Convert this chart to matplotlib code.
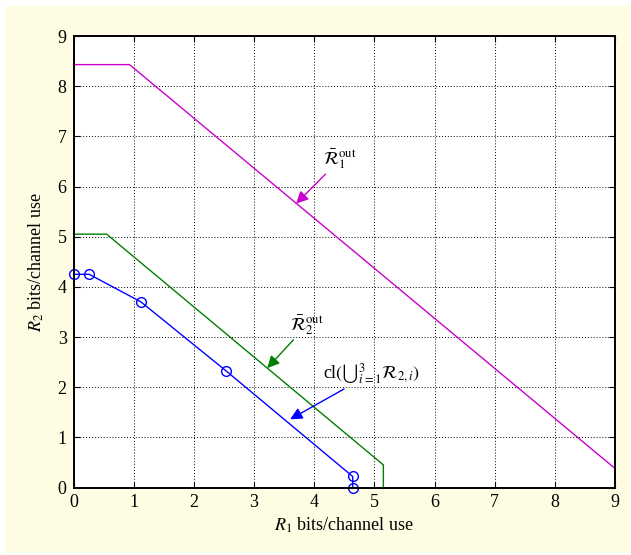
import matplotlib.pyplot as plt
from matplotlib.patches import FancyBboxPatch

plt.rcParams['font.family'] = ['Liberation Serif', 'DejaVu Serif']
plt.rcParams['mathtext.fontset'] = 'stix'

# outer bound 1 (magenta)
r1_out1 = [0, 0.93, 9.0, 9.0]
r2_out1 = [8.43, 8.43, 0.38, 0]
# outer bound 2 (green)
r1_out2 = [0, 0.55, 5.10, 5.15, 5.15]
r2_out2 = [5.05, 5.05, 0.50, 0.45, 0]
# achievable region corner points (blue)
r1_ach = [0, 0.26, 1.12, 2.54, 4.64, 4.64]
r2_ach = [4.25, 4.25, 3.70, 2.32, 0.22, 0]

fig = plt.figure(figsize=(6.31, 5.55), dpi=100)
fig.patch.set_facecolor('white')
bg = FancyBboxPatch((0.008, 0.004), 0.99, 0.985, boxstyle='square,pad=0',
                    transform=fig.transFigure, facecolor='#fefde3',
                    edgecolor='none', zorder=-10)
fig.patches.append(bg)

ax = fig.add_axes([0.1166, 0.1216, 0.858, 0.8135])
ax.set_facecolor('white')

ax.plot(r1_out1, r2_out1, color='#cc00cc', lw=1.0, clip_on=False)
ax.plot(r1_out2, r2_out2, color='#007f00', lw=1.0, clip_on=False)
ax.plot(r1_ach, r2_ach, color='#0000ff', lw=1.0, marker='o', markersize=7,
        markerfacecolor='none', markeredgewidth=1.0, clip_on=False)

ax.set_xlim(0, 9)
ax.set_ylim(0, 9)
ax.set_xticks(range(10))
ax.set_yticks(range(10))
ax.grid(True, color='black', linestyle=(0, (1, 2)), lw=0.7)
ax.tick_params(direction='in', top=True, right=True, labelsize=13, length=4, pad=5)
for s in ax.spines.values():
    s.set_linewidth(1.4)

ax.set_xlabel(r'$R_1$ bits/channel use', fontsize=13, labelpad=3)
ax.set_ylabel(r'$R_2$ bits/channel use', fontsize=13, labelpad=8)

arw = dict(arrowstyle='-|>', lw=1.0, mutation_scale=18, shrinkA=0, shrinkB=0)
ax.annotate(r'$\bar{\mathcal{R}}_1^{\rm out}$', xy=(3.7, 5.66), xytext=(4.15, 6.3),
            fontsize=13, ha='left', va='bottom',
            arrowprops=dict(arw, color='#cc00cc'))
ax.annotate(r'$\bar{\mathcal{R}}_2^{\rm out}$', xy=(3.22, 2.38), xytext=(3.6, 3.0),
            fontsize=13, ha='left', va='bottom',
            arrowprops=dict(arw, color='#007f00'))
ax.annotate(r'cl$(\bigcup{}_{i=1}^{3}\mathcal{R}_{2,i})$', xy=(3.6, 1.36),
            xytext=(4.14, 2.02), fontsize=13, ha='left', va='bottom',
            arrowprops=dict(arw, color='#0000ff'))

fig.savefig('out.png', dpi=100, facecolor=fig.get_facecolor())
